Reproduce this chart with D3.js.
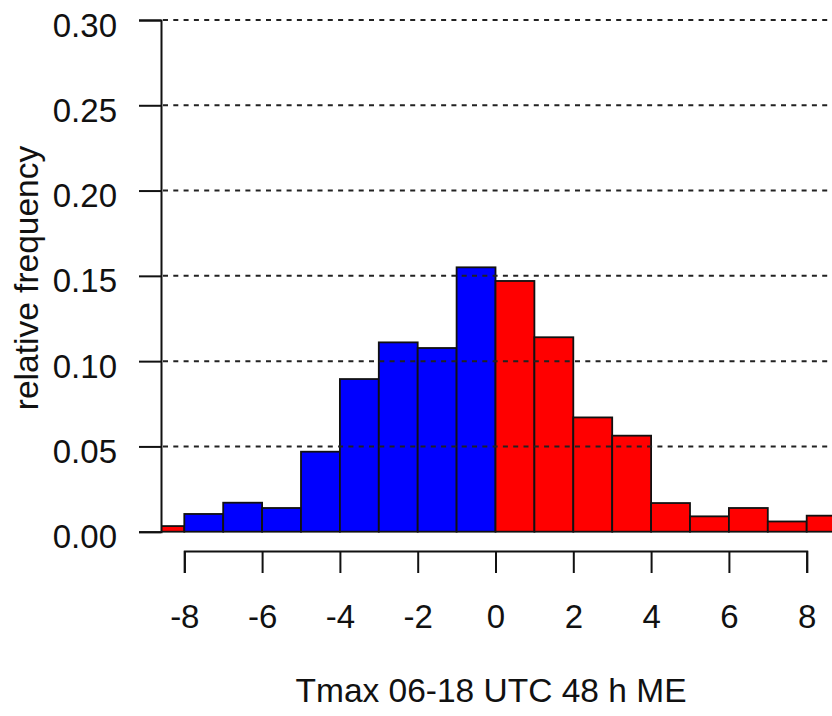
<!DOCTYPE html>
<html>
<head>
<meta charset="utf-8">
<script src="https://cdn.jsdelivr.net/npm/d3@7"></script>
<style>
  html, body { margin: 0; padding: 0; background: #fff; }
  svg { display: block; }
  text { font-family: "Liberation Sans", Arial, sans-serif; fill: #111; }
</style>
</head>
<body>
<svg id="chart" width="832" height="716"></svg>
<script>
// Histogram bins (lower edge of each 1-degree bin) and their relative frequencies
const binStarts = [-9, -8, -7, -6, -5, -4, -3, -2, -1, 0, 1, 2, 3, 4, 5, 6, 7, 8];
const relFreq = [0.0033, 0.0104, 0.0170, 0.0139, 0.0469, 0.0895, 0.1110, 0.1077, 0.1550,
                 0.1470, 0.1140, 0.0670, 0.0563, 0.0168, 0.0090, 0.0139, 0.0060, 0.0094];
// Which colour group each bin belongs to
const binGroup = ["warm", "cold", "cold", "cold", "cold", "cold", "cold", "cold", "cold",
                  "warm", "warm", "warm", "warm", "warm", "warm", "warm", "warm", "warm"];
const yTicks = [0, 0.05, 0.10, 0.15, 0.20, 0.25, 0.30];
const xTicks = [-8, -6, -4, -2, 0, 2, 4, 6, 8];
const xTitle = "Tmax 06-18 UTC 48 h ME";
const yTitle = "relative frequency";

const svg = d3.select("#chart");
const W = 832;
const plotLeft = 161, plotTop = 20, plotBottom = 531.7;

const x = d3.scaleLinear().domain([-8, 8]).range([184.3, 806.7]);
const y = d3.scaleLinear().domain([0, 0.30]).range([plotBottom, plotTop]);
const color = d3.scaleOrdinal().domain(["cold", "warm"]).range(["#0000ff", "#ff0000"]);

const bins = binStarts.map((s, i) => ({ x0: s, x1: s + 1, v: relFreq[i], g: binGroup[i] }));

// clip bars to the plotting region
svg.append("defs").append("clipPath").attr("id", "plotClip")
  .append("rect").attr("x", plotLeft).attr("y", 0).attr("width", W - plotLeft).attr("height", plotBottom + 4);

svg.append("g").attr("clip-path", "url(#plotClip)")
  .selectAll("rect").data(bins).join("rect")
  .attr("x", d => x(d.x0))
  .attr("y", d => y(d.v))
  .attr("width", d => x(d.x1) - x(d.x0))
  .attr("height", d => y(0) - y(d.v))
  .attr("fill", d => color(d.g))
  .attr("stroke", "#111")
  .attr("stroke-width", 1.8);

// dotted horizontal reference lines
svg.append("g").selectAll("line").data(yTicks.filter(t => t > 0)).join("line")
  .attr("x1", plotLeft + 2).attr("x2", W)
  .attr("y1", d => y(d)).attr("y2", d => y(d))
  .attr("stroke", "#222").attr("stroke-width", 2)
  .attr("stroke-dasharray", "5,5.3");

// y axis
const yAxis = svg.append("g").attr("transform", `translate(${plotLeft},0)`)
  .call(d3.axisLeft(y).tickValues(yTicks).tickFormat(d3.format(".2f")).tickSize(22).tickPadding(22));
yAxis.selectAll("text").attr("dy", 16).style("font-size", "33px");

// x axis, drawn below the plotting region (plain hyphen for negatives)
const xAxis = svg.append("g").attr("transform", "translate(0,551)")
  .call(d3.axisBottom(x).tickValues(xTicks).tickFormat(d => String(d)).tickSize(22).tickPadding(32));
xAxis.selectAll("text").style("font-size", "33px");

svg.selectAll(".domain, .tick line").attr("stroke", "#111").attr("stroke-width", 2);
svg.selectAll(".tick text").attr("fill", "#111").style("font-family", "'Liberation Sans', Arial, sans-serif");

// axis titles
svg.append("text").attr("x", 491).attr("y", 702)
  .attr("text-anchor", "middle").style("font-size", "33.5px").text(xTitle);
svg.append("text").attr("transform", "translate(38,278) rotate(-90)")
  .attr("text-anchor", "middle").style("font-size", "33.5px").text(yTitle);
</script>
</body>
</html>
